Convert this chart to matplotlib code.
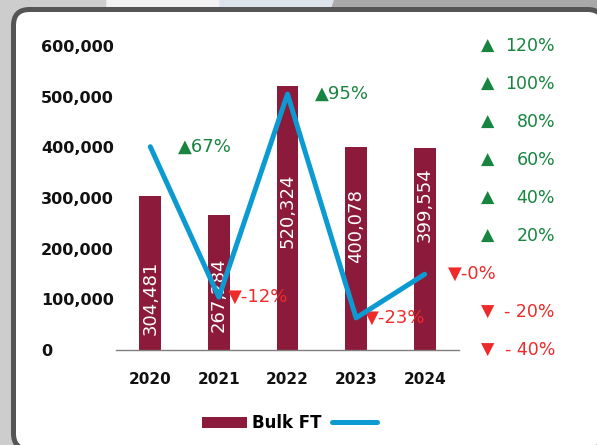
import matplotlib
matplotlib.use("Agg")
import matplotlib.pyplot as plt
from matplotlib.patches import Rectangle, Polygon, FancyBboxPatch
from matplotlib.transforms import blended_transform_factory

plt.rcParams['font.family'] = ['DejaVu Sans']

# 数据
years = ['2020', '2021', '2022', '2023', '2024']
volumes = [304481, 267284, 520324, 400078, 399554]
growth = [67, -12.2, 94.7, -23.1, -0.13]
growth_labels = ['▲67%', '▼-12%', '▲95%', '▼-23%', '▼-0%']
right_ticks = [120, 100, 80, 60, 40, 20, -20, -40]

# 标签位置 (柱内数字的y位置, 增长率标签的水平偏移像素)
bar_label_y = [103000, 110000, 274000, 245000, 286000]
growth_dx = [28, 9, 27, 9, 23]

bar_color = '#8c1a3a'
line_color = '#0b9ad2'
green = '#17843f'
red = '#ee2a2a'

fig = plt.figure(figsize=(5.97, 4.45), dpi=100)

# 背景和圆角白框
bg = fig.add_axes([0, 0, 1, 1])
bg.set_xlim(0, 597)
bg.set_ylim(445, 0)
bg.axis('off')
bg.add_patch(Rectangle((0, 0), 597, 445, color='#cdcdcd'))
bg.add_patch(Polygon([(107, 0), (334, 0), (330, 12), (107, 12)], color='#f2f2f2'))
bg.add_patch(Polygon([(220, 0), (334, 0), (330, 12), (220, 12)], color='#dde3eb'))
bg.add_patch(Polygon([(334, 0), (597, 0), (597, 12), (330, 12)], color='#a9a9a9'))
bg.add_patch(FancyBboxPatch((13.5, 9.5), 590, 440,
                            boxstyle="round,pad=0,rounding_size=16",
                            fc='white', ec='#555555', lw=3.6))

# 柱状图
ax = fig.add_axes([0.1943, 0.2135, 0.5745, 0.6831])
ax.patch.set_alpha(0)
x = range(len(years))
bars = ax.bar(x, volumes, width=0.32, color=bar_color, zorder=2)
ax.set_xlim(-0.5, 4.5)
ax.set_ylim(0, 600000)
for s in ['top', 'left', 'right']:
    ax.spines[s].set_visible(False)
ax.spines['bottom'].set_color('#7f7f7f')
ax.spines['bottom'].set_linewidth(1)

ax.set_yticks(range(0, 600001, 100000))
ax.set_yticklabels([f'{v:,}' for v in range(0, 600001, 100000)],
                   fontsize=11.5, fontweight='bold', color='#111111')
ax.tick_params(axis='y', length=0, pad=54)
for lab in ax.get_yticklabels():
    lab.set_horizontalalignment('left')
ax.set_xticks(list(x))
ax.set_xticklabels(years, fontsize=11, fontweight='bold', color='#111111')
ax.tick_params(axis='x', length=0, pad=16)

for i, v in enumerate(volumes):
    ax.text(i, bar_label_y[i], f'{v:,}', rotation=90, ha='center', va='center',
            color='white', fontsize=13, zorder=3)

# 增长率折线
ax2 = ax.twinx()
ax2.set_ylim(-40, 120)
ax2.axis('off')
line, = ax2.plot(list(x), growth, color=line_color, lw=3.6,
                 solid_capstyle='round', solid_joinstyle='round', zorder=4)

for i, g in enumerate(growth):
    c = green if g > 0 else red
    ax2.annotate(growth_labels[i], (i, g), xytext=(growth_dx[i] * 0.72, 0),
                 textcoords='offset points', ha='left', va='center',
                 color=c, fontsize=13, annotation_clip=False)

# 右侧刻度
tr = blended_transform_factory(fig.transFigure, ax2.transData)
for v in right_ticks:
    if v > 0:
        ax2.text(481 / 597, v, '▲', transform=tr, ha='left', va='center',
                 color=green, fontsize=12.5, clip_on=False)
        ax2.text(555 / 597, v, f'{v}%', transform=tr, ha='right', va='center',
                 color=green, fontsize=12.5, clip_on=False)
    else:
        ax2.text(481 / 597, v, '▼', transform=tr, ha='left', va='center',
                 color=red, fontsize=12.5, clip_on=False)
        ax2.text(555 / 597, v, f'- {abs(v)}%', transform=tr, ha='right', va='center',
                 color=red, fontsize=12.5, clip_on=False)

# 图例
fig.legend([bars, line], ['Bulk FT', ''], ncol=2, loc='center',
           bbox_to_anchor=(0.489, 0.049), frameon=False,
           handlelength=2.7, handleheight=0.66, handletextpad=0.3,
           columnspacing=0.6, prop={'size': 12, 'weight': 'bold'})

fig.savefig('out.png', dpi=100)
